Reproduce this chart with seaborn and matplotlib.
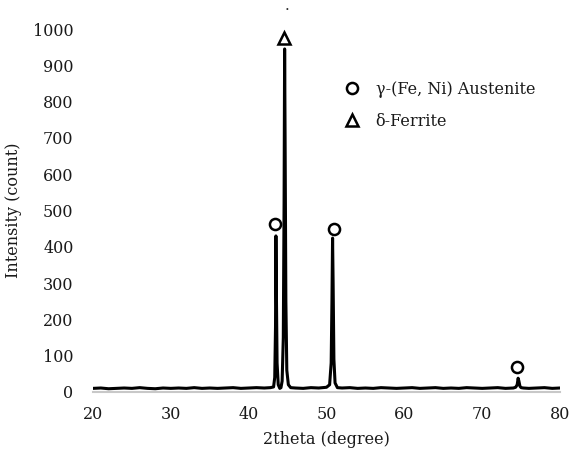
import matplotlib
matplotlib.use("Agg")
import matplotlib.pyplot as plt
import seaborn as sns
import numpy as np

# XRD pattern
two_theta = [20, 21, 22, 23, 24, 25, 26, 27, 28, 29, 30, 31, 32, 33, 34, 35, 36, 37, 38, 39, 40, 41, 42, 42.8,
             43.2, 43.35, 43.45, 43.5, 43.55, 43.65, 43.8, 44.0, 44.15, 44.3, 44.45, 44.55, 44.62, 44.68, 44.78,
             44.9, 45.1, 45.4, 46, 47, 48, 49, 50, 50.4, 50.6, 50.7, 50.78, 50.85, 50.95, 51.1, 51.4, 52, 53, 54,
             55, 56, 57, 58, 59, 60, 61, 62, 63, 64, 65, 66, 67, 68, 69, 70, 71, 72, 73, 74, 74.3, 74.5, 74.62,
             74.72, 74.85, 75.0, 75.3, 76, 77, 78, 79, 80]
intensity = [10, 11, 9, 10, 11, 10, 12, 10, 9, 11, 10, 11, 10, 12, 10, 11, 10, 11, 12, 10, 11, 12, 11, 12,
             14, 40, 180, 430, 300, 80, 20, 10, 12, 30, 150, 520, 945, 700, 250,
             60, 20, 12, 11, 10, 12, 11, 13, 20, 80, 250, 424, 300, 90, 25, 12, 11, 12, 10,
             11, 10, 12, 11, 10, 11, 12, 10, 11, 12, 10, 11, 10, 12, 11, 10, 11, 12, 10, 11, 13, 20, 38,
             30, 16, 12, 11, 10, 11, 12, 10, 11]

austenite_x = [43.4, 51.0, 74.5]
austenite_y = [463, 449, 69]
ferrite_x = [44.6]
ferrite_y = [975]

xticks = [20, 30, 40, 50, 60, 70, 80]
yticks = [0, 100, 200, 300, 400, 500, 600, 700, 800, 900, 1000]

sns.set_theme(style="white")
plt.rcParams["font.family"] = ["DejaVu Serif"]

fig = plt.figure(figsize=(5.79, 4.54), dpi=100)
ax = fig.add_axes([93 / 579, 1 - 392 / 454, 467 / 579, 363 / 454])

sns.lineplot(x=two_theta, y=intensity, ax=ax, color="black", linewidth=2.2, sort=False)

ax.plot(austenite_x, austenite_y, linestyle="none", marker="o", markersize=8,
        markerfacecolor="white", markeredgecolor="black", markeredgewidth=1.8,
        label="γ-(Fe, Ni) Austenite", clip_on=False)
ax.plot(ferrite_x, ferrite_y, linestyle="none", marker="^", markersize=9,
        markerfacecolor="white", markeredgecolor="black", markeredgewidth=1.8,
        label="δ-Ferrite", clip_on=False)

ax.set_xlim(20, 80)
ax.set_ylim(0, 1000)
ax.set_xticks(xticks)
ax.set_yticks(yticks)
ax.tick_params(axis="both", labelsize=11.5, length=0, colors="#1a1a1a")
ax.tick_params(axis="y", pad=14)
ax.tick_params(axis="x", pad=10)

for side in ["top", "right", "left"]:
    ax.spines[side].set_visible(False)
ax.spines["bottom"].set_color("#c8c8c8")
ax.spines["bottom"].set_linewidth(1.5)

ax.set_xlabel("2theta (degree)", fontsize=11.5, labelpad=6, color="#1a1a1a")
ax.set_ylabel("Intensity (count)", fontsize=11.5, labelpad=8, color="#1a1a1a")

leg = ax.legend(loc="upper left", bbox_to_anchor=(0.506, 0.897), frameon=False,
                fontsize=11.5, handlelength=1.0, handletextpad=1.0, labelspacing=0.95)
for t in leg.get_texts():
    t.set_color("#1a1a1a")

fig.text(287 / 579, 1 - 10 / 454, ".", fontsize=11, ha="center", va="baseline")

fig.savefig("out.png", dpi=100)
